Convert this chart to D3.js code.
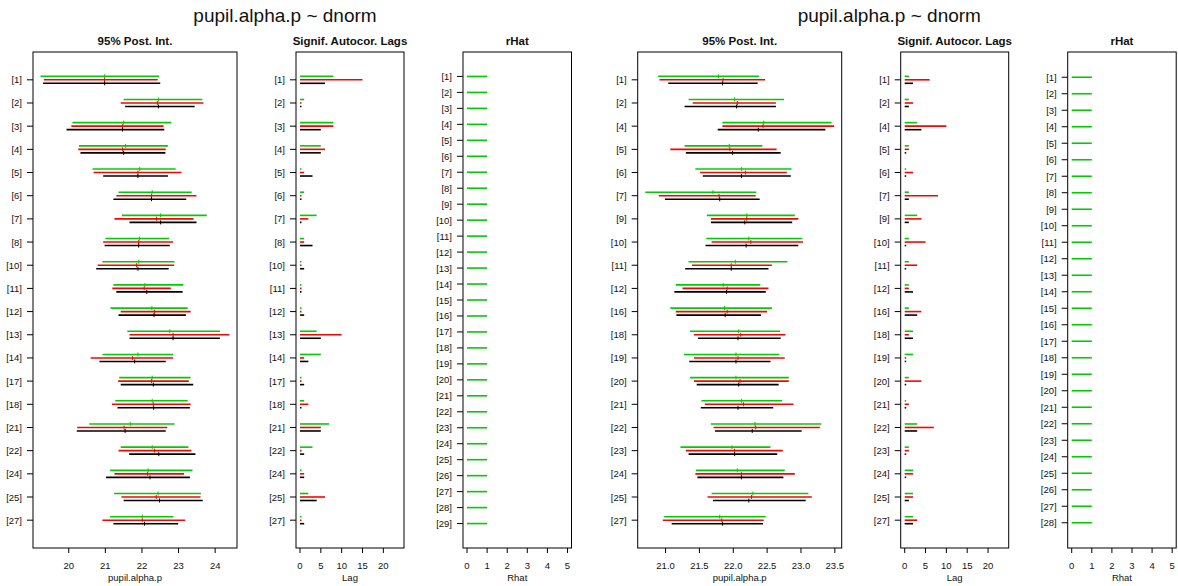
<html>
<head>
<meta charset="UTF-8">
<script src="https://d3js.org/d3.v7.min.js"></script>
<style>
  body { margin: 0; background: #fff; }
  text { font-family: "Liberation Sans", Arial, Helvetica, sans-serif; fill: #111; }
</style>
</head>
<body>
<svg id="chart" width="1178" height="586"></svg>
<script>
// ---- data ----
// each entry: [lower 2.5%, median, upper 97.5%]
const leftLabels = ["[1]","[2]","[3]","[4]","[5]","[6]","[7]","[8]","[10]","[11]","[12]","[13]","[14]","[17]","[18]","[21]","[22]","[24]","[25]","[27]"];
const leftChain1 = [[19.23,20.98,22.47],[21.50,22.45,23.65],[20.10,21.50,22.80],[20.28,21.55,22.71],[20.65,21.94,22.92],
  [21.36,22.28,23.36],[21.45,22.51,23.77],[21.00,21.93,22.74],[20.92,21.91,22.89],[21.22,22.08,23.13],
  [21.14,22.27,23.25],[21.60,22.76,24.13],[20.92,21.89,22.85],[21.38,22.28,23.33],[21.27,22.28,23.25],
  [20.56,21.68,22.89],[21.42,22.28,23.27],[21.13,22.17,23.38],[21.24,22.44,23.61],[21.13,22.01,22.86]];
const leftChain2 = [[19.32,20.98,22.43],[21.42,22.42,23.68],[20.07,21.47,22.59],[20.26,21.47,22.65],[20.68,21.89,23.08],
  [21.30,22.26,23.49],[21.25,22.40,23.41],[20.94,21.91,22.85],[20.79,21.85,22.88],[21.19,22.06,22.79],
  [21.42,22.34,23.33],[21.66,22.85,24.39],[20.60,21.74,22.85],[21.35,22.26,23.28],[21.18,22.31,23.33],
  [20.23,21.51,22.69],[21.36,22.34,23.35],[21.25,22.15,23.15],[21.44,22.39,23.60],[20.92,22.01,23.18]];
const leftChain3 = [[19.30,20.98,22.50],[21.54,22.45,23.44],[19.94,21.47,22.61],[20.32,21.50,22.64],[20.94,21.89,22.71],
  [21.22,22.26,23.21],[21.66,22.51,23.49],[20.98,21.91,22.76],[20.75,21.89,22.73],[21.30,22.13,23.11],
  [21.36,22.33,23.20],[21.66,22.85,24.13],[20.84,21.80,22.65],[21.42,22.31,23.40],[21.33,22.32,23.31],
  [20.22,21.54,22.65],[21.65,22.46,23.46],[21.02,22.22,23.31],[21.50,22.48,23.66],[21.22,22.07,22.99]];
const leftLags1 = [8,1,8,5,0,1,4,1,0,0,0,4,5,0,1,7,3,0,2,0];
const leftLags2 = [15,0,8,6,1,0,2,1,0,0,0,10,1,0,2,5,0,1,6,0];
const leftLags3 = [6,0,5,5,3,0,0,3,1,0,1,5,2,1,0,5,1,1,4,1];
const leftRhatLabels = d3.range(1, 30).map(i => "[" + i + "]");
const leftRhat = [1,1,1,1,1,1,1,1,1,1,1,1,1,1,1,1,1,1,1,1,1,1,1,1,1,1,1,1,1];
const leftTicks = [20, 21, 22, 23, 24];

const rightLabels = ["[1]","[2]","[4]","[5]","[6]","[7]","[9]","[10]","[11]","[12]","[16]","[18]","[19]","[20]","[21]","[22]","[23]","[24]","[25]","[27]"];
const rightChain1 = [[20.89,21.78,22.38],[21.34,22.02,22.75],[21.84,22.45,23.45],[21.28,21.94,22.43],[21.44,22.12,22.86],
  [20.70,21.70,22.34],[21.61,22.20,22.91],[21.60,22.23,23.02],[21.34,22.03,22.80],[21.15,21.85,22.40],
  [21.07,21.87,22.57],[21.36,22.08,22.69],[21.27,22.04,22.68],[21.36,22.04,22.82],[21.53,22.12,22.72],
  [21.67,22.32,23.30],[21.22,21.98,22.55],[21.45,22.06,22.76],[21.68,22.29,23.11],[20.98,21.80,22.48]];
const rightChain2 = [[20.91,21.85,22.47],[21.40,22.06,22.63],[21.84,22.44,23.49],[21.07,21.95,22.64],[21.51,22.18,22.79],
  [20.90,21.79,22.33],[21.67,22.20,22.96],[21.68,22.26,23.03],[21.39,21.97,22.57],[21.25,21.91,22.52],
  [21.15,21.91,22.50],[21.42,22.11,22.77],[21.42,22.07,22.76],[21.42,22.10,22.82],[21.58,22.15,22.89],
  [21.71,22.33,23.28],[21.30,22.02,22.73],[21.44,22.12,22.91],[21.62,22.27,23.16],[20.96,21.83,22.45]];
const rightChain3 = [[21.04,21.84,22.36],[21.28,22.05,22.63],[21.77,22.37,23.36],[21.30,21.99,22.70],[21.55,22.12,22.85],
  [20.99,21.80,22.39],[21.67,22.17,22.87],[21.59,22.19,22.96],[21.29,21.97,22.52],[21.13,21.90,22.48],
  [21.16,21.88,22.41],[21.48,22.07,22.70],[21.35,22.04,22.55],[21.46,22.08,22.67],[21.52,22.07,22.59],
  [21.73,22.28,23.01],[21.34,22.02,22.65],[21.47,22.12,22.74],[21.70,22.23,23.07],[21.09,21.84,22.44]];
const rightLags1 = [1,1,3,1,0,1,3,1,1,1,1,2,2,1,0,3,1,2,2,2];
const rightLags2 = [6,2,10,1,2,8,4,5,3,1,4,1,0,4,1,7,1,2,2,3];
const rightLags3 = [2,1,4,0,0,1,1,0,0,2,3,2,0,0,0,3,0,0,1,2];
const rightRhatLabels = d3.range(1, 29).map(i => "[" + i + "]");
const rightRhat = [1,1,1,1,1,1,1,1,1,1,1,1,1,1,1,1,1,1,1,1,1,1,1,1,1,1,1,1];
const rightTicks = [21.0, 21.5, 22.0, 22.5, 23.0, 23.5];

const lagTicks = [0, 5, 10, 15, 20];
const rhatTicks = [0, 1, 2, 3, 4, 5];
const chainColors = ["#00cc00", "#ff0000", "#000000"];
const mainTitle = "pupil.alpha.p ~ dnorm";

// ---- layout ----
const svg = d3.select("#chart");
const boxTop = 52, boxBottom = 548;
const lw = 1.6;   // line width of the interval segments
const off = 3.5;  // vertical offset between chains

// R style 4% padding on a domain
function pad(lo, hi) {
  let r = hi - lo;
  return [lo - 0.04 * r, hi + 0.04 * r];
}

function drawAxes(g, box, x, y, xticks, fmt, xlab, title) {
  g.append("rect")
    .attr("x", box.x).attr("y", boxTop)
    .attr("width", box.w).attr("height", boxBottom - boxTop)
    .attr("fill", "none").attr("stroke", "#000").attr("stroke-width", 1);

  // panel title
  g.append("text")
    .attr("x", box.x + box.w / 2).attr("y", 45)
    .attr("text-anchor", "middle")
    .style("font-weight", "bold").style("font-size", "11.5px")
    .text(title);

  // bottom ticks
  xticks.forEach(t => {
    g.append("line")
      .attr("x1", x(t)).attr("x2", x(t))
      .attr("y1", boxBottom).attr("y2", boxBottom + 5)
      .attr("stroke", "#000");
    g.append("text")
      .attr("x", x(t)).attr("y", 569)
      .attr("text-anchor", "middle")
      .style("font-size", "9.5px")
      .text(fmt(t));
  });
  g.append("text")
    .attr("x", box.x + box.w / 2).attr("y", 581)
    .attr("text-anchor", "middle")
    .style("font-size", "9.5px")
    .text(xlab);

  // left ticks with the row labels
  y.domain().forEach(lab => {
    g.append("line")
      .attr("x1", box.x - 6).attr("x2", box.x)
      .attr("y1", y(lab)).attr("y2", y(lab))
      .attr("stroke", "#000");
    g.append("text")
      .attr("x", box.x - 11).attr("y", y(lab) + 3.5)
      .attr("text-anchor", "end")
      .style("font-size", "9.5px")
      .text(lab);
  });
}

function drawGroup(dx, titleX, labels, chains, lags, rhatLabels, rhat, xticks, fmt) {
  let g = svg.append("g").attr("transform", "translate(" + dx + ",0)");

  g.append("text")
    .attr("x", titleX - dx).attr("y", 22)
    .attr("text-anchor", "middle")
    .style("font-size", "19px")
    .text(mainTitle);

  // --- 95% posterior intervals ---
  let box1 = {x: 33, w: 204};
  let all = chains.flat(2);
  let x1 = d3.scaleLinear().domain(pad(d3.min(all), d3.max(all))).range([box1.x, box1.x + box1.w]);
  let y1 = d3.scalePoint().domain(labels).range([boxTop, boxBottom]).padding(1.2);
  drawAxes(g, box1, x1, y1, xticks, fmt, "pupil.alpha.p", "95% Post. Int.");

  chains.forEach((ch, c) => {
    let dy = (c - 1) * off;
    ch.forEach((d, i) => {
      let yy = y1(labels[i]) + dy;
      g.append("line")
        .attr("x1", x1(d[0])).attr("x2", x1(d[2]))
        .attr("y1", yy).attr("y2", yy)
        .attr("stroke", chainColors[c]).attr("stroke-width", lw);
      g.append("line")
        .attr("x1", x1(d[1])).attr("x2", x1(d[1]))
        .attr("y1", yy - 2).attr("y2", yy + 2)
        .attr("stroke", chainColors[c]).attr("stroke-width", 1);
    });
  });

  // --- significant autocorrelation lags ---
  let box2 = {x: 296, w: 108};
  let x2 = d3.scaleLinear().domain(pad(0, 24)).range([box2.x, box2.x + box2.w]);
  let y2 = d3.scalePoint().domain(labels).range([boxTop, boxBottom]).padding(1.2);
  drawAxes(g, box2, x2, y2, lagTicks, d3.format("d"), "Lag", "Signif. Autocor. Lags");

  lags.forEach((ch, c) => {
    let dy = (c - 1) * off;
    ch.forEach((v, i) => {
      let yy = y2(labels[i]) + dy;
      let xe = Math.max(x2(v), x2(0) + 1.5);
      g.append("line")
        .attr("x1", x2(0)).attr("x2", xe)
        .attr("y1", yy).attr("y2", yy)
        .attr("stroke", chainColors[c]).attr("stroke-width", lw);
    });
  });

  // --- rHat ---
  let box3 = {x: 463, w: 108.5};
  let x3 = d3.scaleLinear().domain(pad(0, 5)).range([box3.x, box3.x + box3.w]);
  let y3 = d3.scalePoint().domain(rhatLabels).range([boxTop, boxBottom]).padding(1.53);
  drawAxes(g, box3, x3, y3, rhatTicks, d3.format("d"), "Rhat", "rHat");

  rhat.forEach((v, i) => {
    g.append("line")
      .attr("x1", x3(0)).attr("x2", x3(v))
      .attr("y1", y3(rhatLabels[i])).attr("y2", y3(rhatLabels[i]))
      .attr("stroke", chainColors[0]).attr("stroke-width", lw);
  });
}

drawGroup(0, 285, leftLabels, [leftChain1, leftChain2, leftChain3],
  [leftLags1, leftLags2, leftLags3], leftRhatLabels, leftRhat, leftTicks, d3.format("d"));
drawGroup(604.7, 889.3, rightLabels, [rightChain1, rightChain2, rightChain3],
  [rightLags1, rightLags2, rightLags3], rightRhatLabels, rightRhat, rightTicks, d3.format(".1f"));
</script>
</body>
</html>
